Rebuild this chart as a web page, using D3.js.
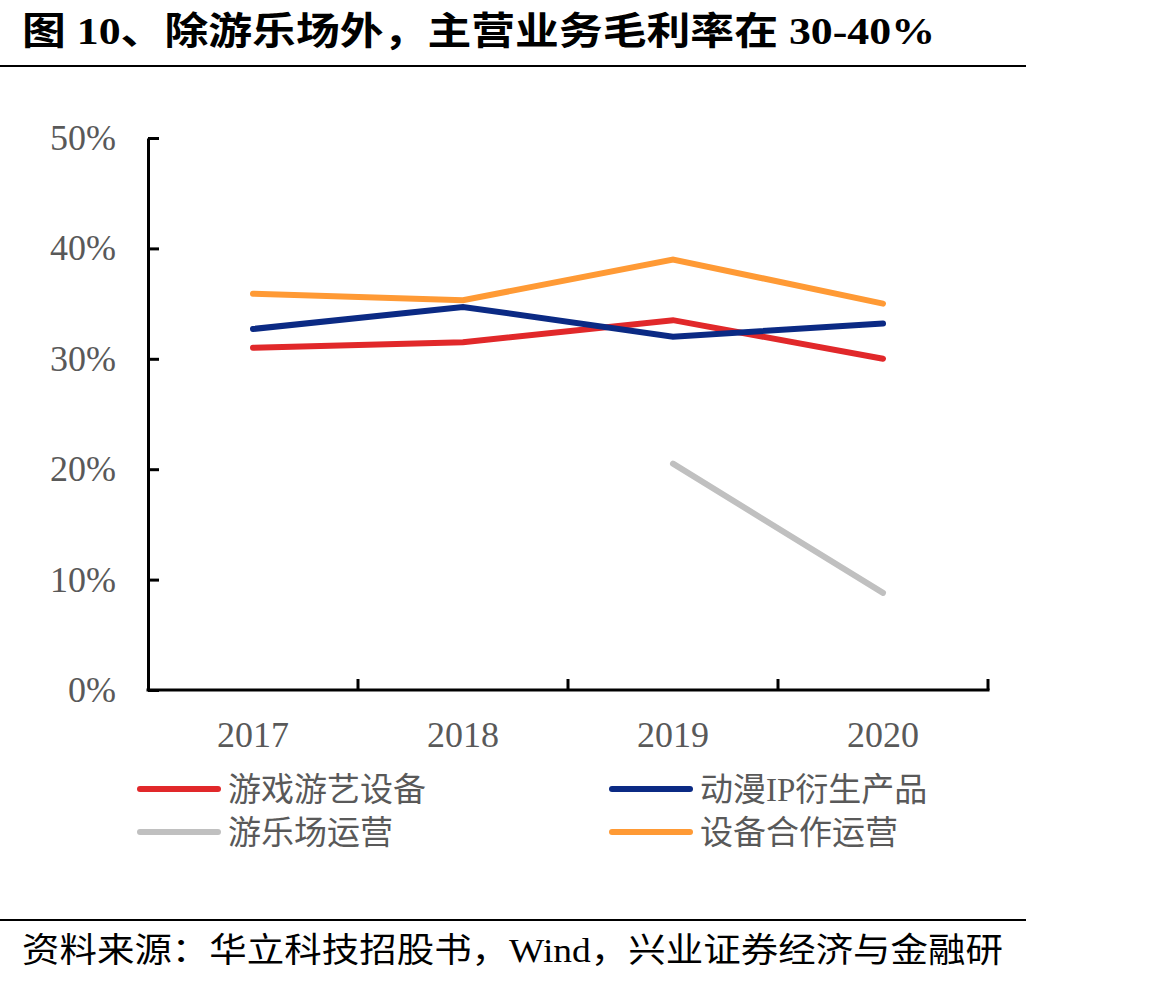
<!DOCTYPE html>
<html>
<head>
<meta charset="utf-8">
<script src="https://cdn.jsdelivr.net/npm/d3@7"></script>
<style>
  body { margin: 0; background: #fff; }
  svg { display: block; }
</style>
</head>
<body>
<div id="chart"></div>
<script>
// data
const years = ['2017', '2018', '2019', '2020'];
const gameEquip = [0.310, 0.315, 0.335, 0.300];   // 游戏游艺设备
const animeIP = [0.327, 0.347, 0.320, 0.332];     // 动漫IP衍生产品
const parkOps = [null, null, 0.205, 0.088];       // 游乐场运营
const coopOps = [0.359, 0.353, 0.390, 0.350];     // 设备合作运营
const yTicks = [0, 0.1, 0.2, 0.3, 0.4, 0.5];

const series = [
  { name: '游戏游艺设备', values: gameEquip, color: '#E1282A' },
  { name: '动漫IP衍生产品', values: animeIP, color: '#0B2A84' },
  { name: '游乐场运营', values: parkOps, color: '#C0C0C0' },
  { name: '设备合作运营', values: coopOps, color: '#FF9A35' }
];

const width = 1170;
const height = 984;
const cjkSerif = '"Liberation Serif", "Times New Roman", "Noto Sans CJK SC", serif';
const labelGray = '#595959';

const svg = d3.select('#chart')
  .append('svg')
  .attr('width', width)
  .attr('height', height);

// title + rules
svg.append('text')
  .attr('x', 22)
  .attr('y', 44)
  .attr('font-family', cjkSerif)
  .attr('font-weight', 'bold')
  .attr('font-size', 38)
  .attr('textLength', 913)
  .attr('lengthAdjust', 'spacingAndGlyphs')
  .text('图 10、除游乐场外，主营业务毛利率在 30-40%');

svg.append('line')
  .attr('x1', 0).attr('x2', 1026)
  .attr('y1', 66).attr('y2', 66)
  .attr('stroke', '#000').attr('stroke-width', 2);

svg.append('line')
  .attr('x1', 0).attr('x2', 1026)
  .attr('y1', 920).attr('y2', 920)
  .attr('stroke', '#000').attr('stroke-width', 2);

svg.append('text')
  .attr('x', 22)
  .attr('y', 962)
  .attr('font-family', cjkSerif)
  .attr('font-size', 34)
  .attr('textLength', 981)
  .attr('lengthAdjust', 'spacingAndGlyphs')
  .text('资料来源：华立科技招股书，Wind，兴业证券经济与金融研');

// scales
const x = d3.scaleBand()
  .domain(years)
  .range([148, 988])
  .padding(0);

const y = d3.scaleLinear()
  .domain([0, 0.5])
  .range([690, 138]);

const cx = (d) => x(d) + x.bandwidth() / 2;

// y axis
const yAxis = svg.append('g')
  .attr('transform', 'translate(148,0)')
  .call(d3.axisLeft(y)
    .tickValues(yTicks)
    .tickFormat(d3.format('.0%'))
    .tickSizeInner(-11)
    .tickSizeOuter(0)
    .tickPadding(32));

yAxis.select('.domain').attr('stroke', '#000').attr('stroke-width', 3);
yAxis.selectAll('.tick line').attr('stroke', '#000').attr('stroke-width', 3);
yAxis.selectAll('.tick text')
  .attr('font-family', cjkSerif)
  .attr('font-size', 36)
  .attr('fill', labelGray);

// x axis: domain line, ticks on band boundaries, labels at band centres
const xAxis = svg.append('g');
xAxis.append('line')
  .attr('x1', x.range()[0] - 1.5).attr('x2', x.range()[1] + 1.5)
  .attr('y1', y(0)).attr('y2', y(0))
  .attr('stroke', '#000').attr('stroke-width', 3);

const bounds = years.slice(1).map((d) => x(d)).concat([x.range()[1]]);
xAxis.selectAll('line.tick')
  .data(bounds)
  .enter().append('line')
  .attr('class', 'tick')
  .attr('x1', (d) => d).attr('x2', (d) => d)
  .attr('y1', y(0)).attr('y2', y(0) - 11)
  .attr('stroke', '#000').attr('stroke-width', 3);

xAxis.selectAll('text')
  .data(years)
  .enter().append('text')
  .attr('x', cx)
  .attr('y', 747)
  .attr('text-anchor', 'middle')
  .attr('font-family', cjkSerif)
  .attr('font-size', 36)
  .attr('fill', labelGray)
  .text((d) => d);

// lines
const line = d3.line()
  .defined((d) => d.v != null)
  .x((d) => cx(d.year))
  .y((d) => y(d.v));

svg.append('g')
  .selectAll('path')
  .data(series)
  .enter().append('path')
  .attr('d', (s) => line(s.values.map((v, i) => ({ year: years[i], v }))))
  .attr('fill', 'none')
  .attr('stroke', (s) => s.color)
  .attr('stroke-width', 6)
  .attr('stroke-linecap', 'round')
  .attr('stroke-linejoin', 'miter');

// legend (2 x 2)
const legendPos = [
  { lx: 140, ly: 789 },
  { lx: 612, ly: 789 },
  { lx: 140, ly: 832 },
  { lx: 612, ly: 832 }
];

const legend = svg.append('g')
  .selectAll('g')
  .data(series)
  .enter().append('g')
  .attr('transform', (d, i) => `translate(${legendPos[i].lx},${legendPos[i].ly})`);

legend.append('line')
  .attr('x1', 0).attr('x2', 78)
  .attr('y1', 0).attr('y2', 0)
  .attr('stroke', (d) => d.color)
  .attr('stroke-width', 6)
  .attr('stroke-linecap', 'round');

legend.append('text')
  .attr('x', 88)
  .attr('y', 12)
  .attr('font-family', cjkSerif)
  .attr('font-size', 33)
  .attr('fill', labelGray)
  .text((d) => d.name);
</script>
</body>
</html>
